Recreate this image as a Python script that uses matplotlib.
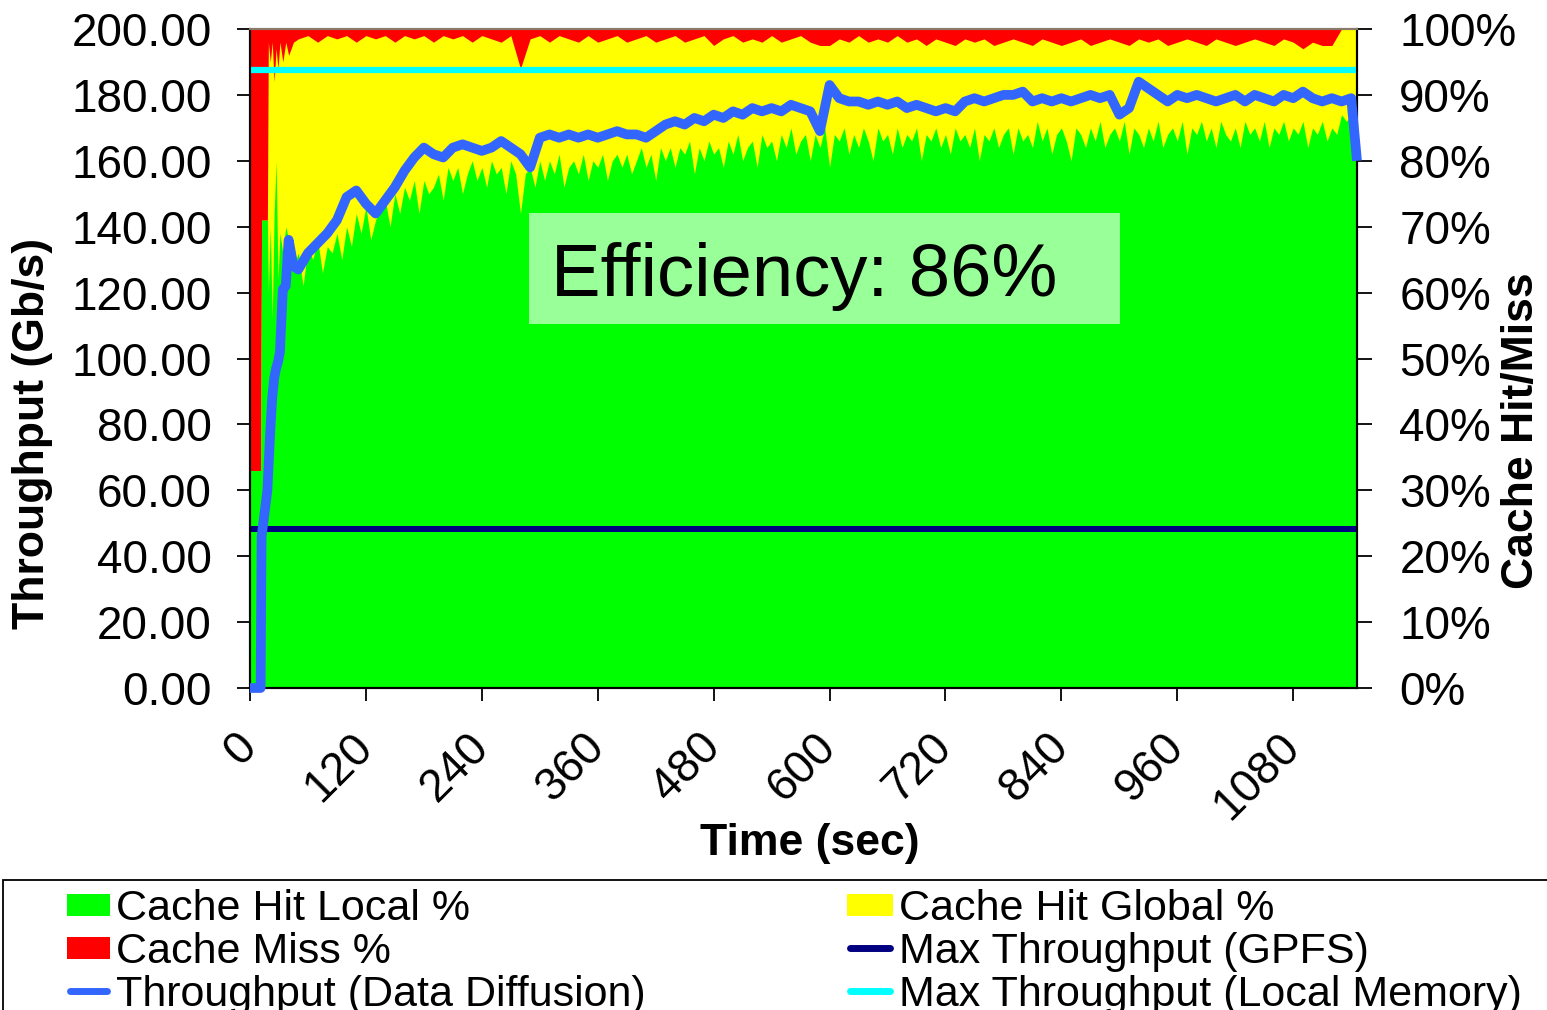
import matplotlib
matplotlib.use("Agg")
import matplotlib.pyplot as plt
import numpy as np
from matplotlib.patches import Rectangle
from matplotlib.lines import Line2D

plt.rcParams['font.family'] = ['Liberation Sans', 'DejaVu Sans']

# ---------------- data ----------------
# time grid for throughput and cache-miss readings (seconds)
time_s = [0, 11, 12, 18, 19, 21, 23, 25, 27, 29, 31, 34, 37, 40, 45,
          50, 60, 70, 80, 90, 100, 110, 120, 130, 140,
          150, 160, 170, 180, 190, 200, 210, 220, 230, 240,
          250, 260, 270, 280, 290, 300, 310, 320, 330, 340,
          350, 360, 370, 380, 390, 400, 410, 420, 430, 440,
          450, 460, 470, 480, 490, 500, 510, 520, 530, 540,
          550, 560, 570, 580, 590, 600, 610, 620, 630, 640,
          650, 660, 670, 680, 690, 700, 710, 720, 730, 740,
          750, 760, 770, 780, 790, 800, 810, 820, 830, 840,
          850, 860, 870, 880, 890, 900, 910, 920, 930, 940,
          950, 960, 970, 980, 990, 1000, 1010, 1020, 1030, 1040,
          1050, 1060, 1070, 1080, 1090, 1100, 1110, 1120, 1130, 1140,
          1146]

# Cache Miss % (top band of the 100% stack)
cache_miss = [67, 67, 29, 29, 2, 5, 2, 8, 3, 6, 2, 5, 2, 4, 2,
              1.5, 1, 2, 1, 1.5, 1, 2, 1, 1.5, 1,
              2, 1, 1.5, 1, 2, 1, 1.5, 1, 2, 1,
              1.5, 2, 1, 6, 1.5, 1, 2, 1, 1.5, 2,
              1, 2, 1.5, 1, 2, 1.5, 1, 2, 1.5, 1,
              2, 1.5, 1, 2.5, 1.5, 1, 2, 1.5, 2, 1,
              2, 1.5, 1, 2, 2.5, 2.5, 1.5, 2, 1, 2,
              1.5, 2, 1, 2, 1.5, 2.5, 1.5, 2, 2.5, 1.5,
              2, 1.5, 2.5, 2, 1.5, 2, 2.5, 1.5, 2, 2.5,
              2, 1.5, 2.5, 2, 1.5, 2, 2.5, 1.5, 2, 1.5,
              2.5, 2, 1.5, 2, 2.5, 1.5, 2, 2.5, 2, 1.5,
              2, 2.5, 1.5, 2, 3, 2, 2.5, 2.5, 0, 0,
              0]

# Throughput (Data Diffusion), Gb/s
throughput = [0, 0, 46, 60, 66, 78, 88, 94, 97, 99, 102, 121, 122, 136, 128,
              127, 132, 135, 138, 142, 149, 151, 147, 144, 148,
              152, 157, 161, 164, 162, 161, 164, 165, 164, 163,
              164, 166, 164, 162, 158, 167, 168, 167, 168, 167,
              168, 167, 168, 169, 168, 168, 167, 169, 171, 172,
              171, 173, 172, 174, 173, 175, 174, 176, 175, 176,
              175, 177, 176, 175, 169, 183, 179, 178, 178, 177,
              178, 177, 178, 176, 177, 176, 175, 176, 175, 178,
              179, 178, 179, 180, 180, 181, 178, 179, 178, 179,
              178, 179, 180, 179, 180, 174, 176, 184, 182, 180,
              178, 180, 179, 180, 179, 178, 179, 180, 178, 180,
              179, 178, 180, 179, 181, 179, 178, 179, 178, 179,
              160]

# finer time grid for Cache Hit Local % (seconds)
local_time = ([0, 11, 12, 18, 19, 21, 23, 25, 27, 29, 31, 34, 37]
              + list(range(40, 1146, 5)) + [1146])

cache_hit_local = [33, 33, 71, 71, 60, 70, 56, 72, 80, 62, 69, 66, 70,
                   68, 64, 66, 61, 67, 65, 68, 63, 67, 66,
                   69, 65, 70, 67, 72, 69, 73, 68, 71, 73,
                   74, 70, 75, 72, 76, 74, 77, 72, 77, 75,
                   76, 78, 74, 79, 77, 79, 75, 78, 80, 77,
                   79, 76, 80, 78, 79, 75, 80, 78, 72, 78,
                   79, 76, 80, 77, 80, 78, 81, 76, 79, 80,
                   78, 81, 77, 80, 79, 81, 77, 80, 81, 79,
                   81, 78, 80, 82, 79, 81, 77, 82, 80, 82,
                   79, 82, 81, 83, 78, 82, 80, 83, 81, 82,
                   79, 83, 81, 84, 80, 82, 83, 79, 84, 82,
                   83, 80, 84, 82, 85, 81, 83, 84, 80, 84,
                   82, 85, 79, 84, 83, 85, 81, 84, 82, 85,
                   83, 80, 85, 83, 84, 81, 85, 82, 84, 83,
                   85, 80, 84, 83, 85, 82, 84, 81, 85, 83,
                   84, 82, 85, 80, 84, 83, 85, 82, 84, 85,
                   81, 85, 83, 84, 82, 86, 83, 85, 81, 84,
                   85, 83, 80, 85, 84, 82, 85, 83, 86, 82,
                   84, 85, 83, 86, 81, 85, 84, 82, 85, 83,
                   86, 82, 84, 85, 83, 86, 81, 85, 84, 86,
                   83, 85, 82, 86, 84, 83, 85, 82, 86, 84,
                   85, 83, 86, 82, 85, 84, 86, 83, 85, 84,
                   86, 82, 85, 84, 86, 83, 85, 84, 87, 86,
                   87, 85,
                   85]

max_gpfs = 48.3
max_local_memory = 187.6
efficiency_label = "Efficiency: 86%"

x_ticks = [0, 120, 240, 360, 480, 600, 720, 840, 960, 1080]
y_ticks = [0, 20, 40, 60, 80, 100, 120, 140, 160, 180, 200]
pct_ticks = [0, 10, 20, 30, 40, 50, 60, 70, 80, 90, 100]

# ---------------- figure ----------------
W, H = 1547, 1010
fig = plt.figure(figsize=(W / 100, H / 100), dpi=100)

def fx(px):
    return px / W

def fy(py):
    return 1 - py / H

ax = fig.add_axes([fx(250), fy(688), fx(1357) - fx(250), fy(29) - fy(688)])
ax2 = ax.twinx()

t = np.array(time_s, dtype=float)
miss = np.array(cache_miss, dtype=float)
tl = np.array(local_time, dtype=float)
loc = np.array(cache_hit_local, dtype=float)

GREEN = '#00FF00'
YELLOW = '#FFFF00'
RED = '#FF0000'
BLUE = '#3366FF'
NAVY = '#000080'
CYAN = '#00FFFF'

# 100% stack: miss on top, global hit in the middle, local hit at bottom
ax2.fill_between(t, 0, 100, color=RED, lw=0)            # cache miss band
ax2.fill_between(t, 0, 100 - miss, color=YELLOW, lw=0)  # global + local hits
ax2.fill_between(tl, 0, loc, color=GREEN, lw=0)         # local hits
ax2.set_ylim(0, 100)
ax2.set_yticks(pct_ticks)
ax2.set_yticklabels([f"{v}%" for v in pct_ticks])

ax.set_zorder(ax2.get_zorder() + 1)
ax.patch.set_visible(False)

ax.axhline(max_gpfs, color=NAVY, lw=4.3)
ax.axhline(max_local_memory, color=CYAN, lw=4.5)
ax.plot(t, throughput, color=BLUE, lw=7, solid_joinstyle='round',
        solid_capstyle='butt', clip_on=False, zorder=4)

ax.set_xlim(0, 1146)
ax.set_ylim(0, 200)
ax.set_xticks(x_ticks)
ax.set_xticklabels([str(v) for v in x_ticks])
ax.set_yticks(y_ticks)
ax.set_yticklabels([f"{v:.2f}" for v in y_ticks])

ax.tick_params(axis='y', direction='out', length=9.5, width=1.3, pad=18,
               labelsize=33)
ax.tick_params(axis='x', direction='out', length=9.5, width=1.3, pad=28,
               labelsize=33)
ax2.tick_params(axis='y', direction='out', length=10.5, width=1.3, pad=20,
                labelsize=33)
for lab in ax.get_xticklabels():
    lab.set_rotation(45)
    lab.set_ha('right')
    lab.set_va('center')
    lab.set_rotation_mode('anchor')

for a in (ax, ax2):
    for s in ('left', 'right', 'bottom'):
        a.spines[s].set_linewidth(1.5)
        a.spines[s].set_color('black')
    a.spines['top'].set_color('#8a7a6a')
    a.spines['top'].set_linewidth(1.5)

# Efficiency box
fig.patches.append(Rectangle((fx(529), fy(324)), fx(1120) - fx(529),
                             fy(213) - fy(324), transform=fig.transFigure,
                             facecolor='#99FF99', edgecolor='none', zorder=5))
fig.text(fx(551), fy(296), efficiency_label, fontsize=53.5, ha='left',
         va='baseline', zorder=6)

# axis titles
fig.text(fx(810), fy(855), "Time (sec)", fontsize=32, fontweight='bold',
         ha='center', va='baseline')
fig.text(fx(33), fy(433), "Throughput (Gb/s)", fontsize=32, fontweight='bold',
         rotation=90, ha='center', va='center')
fig.text(fx(1522), fy(431), "Cache Hit/Miss", fontsize=32, fontweight='bold',
         rotation=90, ha='center', va='center')

# legend (drawn manually; its bottom row is cut by the figure edge as in the reference)
fig.patches.append(Rectangle((fx(3), fy(1030)), fx(1560) - fx(3),
                             fy(880) - fy(1030), transform=fig.transFigure,
                             facecolor='white', edgecolor='black', lw=1.3,
                             zorder=1))
leg_fs = 31
rows = [905, 948, 991]
cols = [(67, 110, 116), (847, 893, 899)]
entries = [
    (0, 0, 'patch', GREEN, "Cache Hit Local %"),
    (0, 1, 'patch', RED, "Cache Miss %"),
    (0, 2, 'line', BLUE, "Throughput (Data Diffusion)"),
    (1, 0, 'patch', YELLOW, "Cache Hit Global %"),
    (1, 1, 'line', NAVY, "Max Throughput (GPFS)"),
    (1, 2, 'line', CYAN, "Max Throughput (Local Memory)"),
]
for c, r, kind, color, label in entries:
    x0, x1, xt = cols[c]
    yc = rows[r]
    if kind == 'patch':
        fig.patches.append(Rectangle((fx(x0), fy(yc + 11)), fx(x1) - fx(x0),
                                     fy(yc - 11) - fy(yc + 11),
                                     transform=fig.transFigure,
                                     facecolor=color, edgecolor='none',
                                     zorder=2))
    else:
        fig.lines.append(Line2D([fx(x0 + 3), fx(x1 - 3)], [fy(yc), fy(yc)],
                                transform=fig.transFigure, color=color,
                                lw=5, solid_capstyle='round', zorder=2))
    fig.text(fx(xt), fy(yc + 15), label, fontsize=leg_fs, ha='left',
             va='baseline', zorder=3)

fig.savefig("out.png", dpi=100)
